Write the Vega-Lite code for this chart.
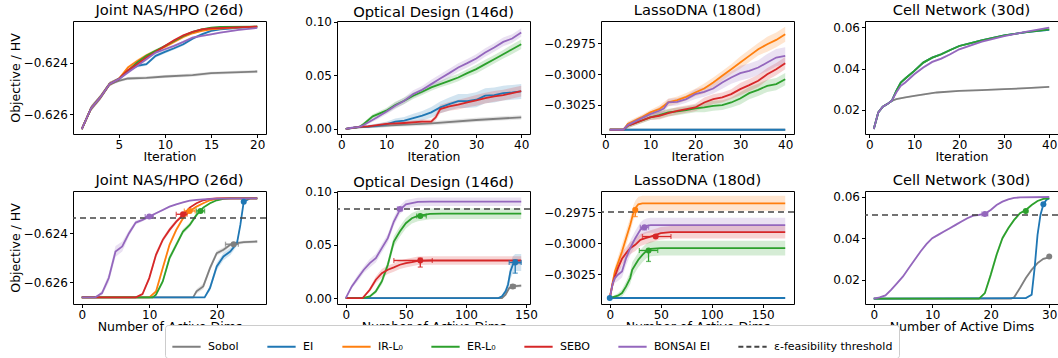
{
"$schema":"https://vega.github.io/schema/vega-lite/v6.json",
"padding":{"left":8,"top":2,"right":0,"bottom":0},
"bounds":"flush",
"columns":4,
"spacing":{"row":57,"column":71},
"config":{
 "font":"DejaVu Sans",
 "view":{"stroke":"black","strokeWidth":1},
 "axis":{"grid":false,"domain":false,"tickColor":"black","tickSize":3.5,"labelColor":"black","labelFontSize":12,"titleFontSize":12.5,"titleFontWeight":"normal","titleColor":"black","labelPadding":2,"titlePadding":1,"labelFlush":false,"labelOverlap":false,"labelBound":false},
 "axisX":{"titlePadding":0,"labelPadding":1.5},
 "title":{"fontSize":14.7,"fontWeight":"normal","offset":3,"color":"black","frame":"group"},
 "legend":{"title":null,"orient":"none","legendX":92,"legendY":304,"direction":"horizontal","columns":7,"symbolType":"stroke","symbolStrokeWidth":2,"symbolSize":800,"labelFontSize":11,"labelColor":"black","columnPadding":24,"labelOffset":6,"strokeColor":"#cccccc","cornerRadius":3,"padding":6,"fillColor":"white","symbolOpacity":1}
},
"datasets":{
"t1":[
{"m":"Sobol","x":1,"v":-0.626584,"e":0.00002},{"m":"Sobol","x":2,"v":-0.625779,"e":0.0001},{"m":"Sobol","x":3,"v":-0.625351,"e":0.0001},{"m":"Sobol","x":4,"v":-0.624831,"e":0.00008},{"m":"Sobol","x":5,"v":-0.624701,"e":0.00006},{"m":"Sobol","x":6,"v":-0.62461,"e":0.00006},{"m":"Sobol","x":8,"v":-0.624584,"e":0.00006},{"m":"Sobol","x":10,"v":-0.624532,"e":0.00006},{"m":"Sobol","x":13,"v":-0.62448,"e":0.00006},{"m":"Sobol","x":15,"v":-0.624403,"e":0.00006},{"m":"Sobol","x":20,"v":-0.624338,"e":0.00006},
{"m":"EI","x":1,"v":-0.626584,"e":0.00002},{"m":"EI","x":2,"v":-0.625779,"e":0.0001},{"m":"EI","x":3,"v":-0.625351,"e":0.0001},{"m":"EI","x":4,"v":-0.624831,"e":0.00008},{"m":"EI","x":5,"v":-0.624636,"e":0.00006},{"m":"EI","x":6,"v":-0.624312,"e":0.00006},{"m":"EI","x":7,"v":-0.624117,"e":0.00006},{"m":"EI","x":8,"v":-0.624052,"e":0.00006},{"m":"EI","x":9,"v":-0.623727,"e":0.00006},{"m":"EI","x":10,"v":-0.623571,"e":0.00006},{"m":"EI","x":11,"v":-0.623429,"e":0.00006},{"m":"EI","x":12,"v":-0.623273,"e":0.00006},{"m":"EI","x":13,"v":-0.623052,"e":0.00005},{"m":"EI","x":14,"v":-0.622883,"e":0.00005},{"m":"EI","x":15,"v":-0.622753,"e":0.00004},{"m":"EI","x":16,"v":-0.622688,"e":0.00003},{"m":"EI","x":18,"v":-0.622636,"e":0.00002},{"m":"EI","x":20,"v":-0.622584,"e":0.00002},
{"m":"IR-L₀","x":1,"v":-0.626584,"e":0.00002},{"m":"IR-L₀","x":2,"v":-0.625779,"e":0.0001},{"m":"IR-L₀","x":3,"v":-0.625351,"e":0.0001},{"m":"IR-L₀","x":4,"v":-0.624831,"e":0.00008},{"m":"IR-L₀","x":5,"v":-0.624636,"e":0.00006},{"m":"IR-L₀","x":6,"v":-0.624182,"e":0.00006},{"m":"IR-L₀","x":7,"v":-0.623922,"e":0.00006},{"m":"IR-L₀","x":8,"v":-0.623701,"e":0.00006},{"m":"IR-L₀","x":9,"v":-0.623532,"e":0.00006},{"m":"IR-L₀","x":10,"v":-0.623377,"e":0.00006},{"m":"IR-L₀","x":11,"v":-0.623182,"e":0.00005},{"m":"IR-L₀","x":12,"v":-0.622987,"e":0.00005},{"m":"IR-L₀","x":13,"v":-0.622844,"e":0.00004},{"m":"IR-L₀","x":14,"v":-0.622753,"e":0.00003},{"m":"IR-L₀","x":15,"v":-0.622688,"e":0.00003},{"m":"IR-L₀","x":17,"v":-0.622636,"e":0.00002},{"m":"IR-L₀","x":20,"v":-0.622584,"e":0.00002},
{"m":"ER-L₀","x":1,"v":-0.626584,"e":0.00002},{"m":"ER-L₀","x":2,"v":-0.625779,"e":0.0001},{"m":"ER-L₀","x":3,"v":-0.625351,"e":0.0001},{"m":"ER-L₀","x":4,"v":-0.624831,"e":0.00008},{"m":"ER-L₀","x":5,"v":-0.624636,"e":0.00006},{"m":"ER-L₀","x":6,"v":-0.624312,"e":0.00006},{"m":"ER-L₀","x":7,"v":-0.623987,"e":0.00006},{"m":"ER-L₀","x":8,"v":-0.623727,"e":0.00006},{"m":"ER-L₀","x":9,"v":-0.623532,"e":0.00006},{"m":"ER-L₀","x":10,"v":-0.623338,"e":0.00005},{"m":"ER-L₀","x":11,"v":-0.623143,"e":0.00005},{"m":"ER-L₀","x":12,"v":-0.622948,"e":0.00004},{"m":"ER-L₀","x":13,"v":-0.622792,"e":0.00003},{"m":"ER-L₀","x":14,"v":-0.622688,"e":0.00003},{"m":"ER-L₀","x":15,"v":-0.622623,"e":0.00002},{"m":"ER-L₀","x":16,"v":-0.622597,"e":0.00002},{"m":"ER-L₀","x":20,"v":-0.622584,"e":0.00002},
{"m":"SEBO","x":1,"v":-0.626584,"e":0.00002},{"m":"SEBO","x":2,"v":-0.625779,"e":0.0001},{"m":"SEBO","x":3,"v":-0.625351,"e":0.0001},{"m":"SEBO","x":4,"v":-0.624831,"e":0.00008},{"m":"SEBO","x":5,"v":-0.624636,"e":0.00006},{"m":"SEBO","x":6,"v":-0.624286,"e":0.00006},{"m":"SEBO","x":7,"v":-0.624052,"e":0.00006},{"m":"SEBO","x":8,"v":-0.623792,"e":0.00006},{"m":"SEBO","x":9,"v":-0.623571,"e":0.00006},{"m":"SEBO","x":10,"v":-0.623338,"e":0.00005},{"m":"SEBO","x":11,"v":-0.623117,"e":0.00005},{"m":"SEBO","x":12,"v":-0.622922,"e":0.00004},{"m":"SEBO","x":13,"v":-0.622792,"e":0.00003},{"m":"SEBO","x":14,"v":-0.622688,"e":0.00003},{"m":"SEBO","x":15,"v":-0.622649,"e":0.00002},{"m":"SEBO","x":20,"v":-0.622584,"e":0.00002},
{"m":"BONSAI EI","x":1,"v":-0.626584,"e":0.00002},{"m":"BONSAI EI","x":2,"v":-0.625779,"e":0.0001},{"m":"BONSAI EI","x":3,"v":-0.625351,"e":0.0001},{"m":"BONSAI EI","x":4,"v":-0.624831,"e":0.00008},{"m":"BONSAI EI","x":5,"v":-0.624636,"e":0.00006},{"m":"BONSAI EI","x":6,"v":-0.624377,"e":0.00006},{"m":"BONSAI EI","x":7,"v":-0.624117,"e":0.00006},{"m":"BONSAI EI","x":8,"v":-0.623857,"e":0.00006},{"m":"BONSAI EI","x":9,"v":-0.623597,"e":0.00006},{"m":"BONSAI EI","x":10,"v":-0.623468,"e":0.00006},{"m":"BONSAI EI","x":11,"v":-0.623338,"e":0.00006},{"m":"BONSAI EI","x":12,"v":-0.623182,"e":0.00005},{"m":"BONSAI EI","x":13,"v":-0.623013,"e":0.00005},{"m":"BONSAI EI","x":14,"v":-0.622948,"e":0.00004},{"m":"BONSAI EI","x":15,"v":-0.622883,"e":0.00004},{"m":"BONSAI EI","x":16,"v":-0.622818,"e":0.00003},{"m":"BONSAI EI","x":18,"v":-0.622714,"e":0.00003},{"m":"BONSAI EI","x":20,"v":-0.622636,"e":0.00002}
],
"t2":[
{"m":"Sobol","x":1,"v":0,"e":0.0005},{"m":"Sobol","x":4,"v":0.0016,"e":0.001},{"m":"Sobol","x":10,"v":0.0031,"e":0.0015},{"m":"Sobol","x":20,"v":0.0053,"e":0.002},{"m":"Sobol","x":30,"v":0.0084,"e":0.002},{"m":"Sobol","x":40,"v":0.0109,"e":0.002},
{"m":"EI","x":1,"v":0,"e":0.0005},{"m":"EI","x":4,"v":0.0019,"e":0.001},{"m":"EI","x":6,"v":0.0022,"e":0.0015},{"m":"EI","x":8,"v":0.0031,"e":0.002},{"m":"EI","x":10,"v":0.0043,"e":0.0025},{"m":"EI","x":12,"v":0.0068,"e":0.003},{"m":"EI","x":14,"v":0.0078,"e":0.0035},{"m":"EI","x":16,"v":0.0102,"e":0.004},{"m":"EI","x":18,"v":0.0124,"e":0.0045},{"m":"EI","x":20,"v":0.0155,"e":0.005},{"m":"EI","x":22,"v":0.0202,"e":0.0055},{"m":"EI","x":24,"v":0.0233,"e":0.006},{"m":"EI","x":26,"v":0.0261,"e":0.0065},{"m":"EI","x":28,"v":0.0261,"e":0.0065},{"m":"EI","x":30,"v":0.0273,"e":0.007},{"m":"EI","x":32,"v":0.0311,"e":0.007},{"m":"EI","x":34,"v":0.0317,"e":0.007},{"m":"EI","x":36,"v":0.0335,"e":0.007},{"m":"EI","x":38,"v":0.0342,"e":0.007},{"m":"EI","x":40,"v":0.0351,"e":0.007},
{"m":"ER-L₀","x":1,"v":0,"e":0.0005},{"m":"ER-L₀","x":4,"v":0.0019,"e":0.001},{"m":"ER-L₀","x":5,"v":0.0047,"e":0.0015},{"m":"ER-L₀","x":7,"v":0.0118,"e":0.002},{"m":"ER-L₀","x":10,"v":0.0171,"e":0.0025},{"m":"ER-L₀","x":12,"v":0.0224,"e":0.003},{"m":"ER-L₀","x":14,"v":0.0264,"e":0.003},{"m":"ER-L₀","x":16,"v":0.0311,"e":0.003},{"m":"ER-L₀","x":18,"v":0.0348,"e":0.003},{"m":"ER-L₀","x":20,"v":0.0388,"e":0.003},{"m":"ER-L₀","x":22,"v":0.0419,"e":0.003},{"m":"ER-L₀","x":24,"v":0.045,"e":0.0035},{"m":"ER-L₀","x":26,"v":0.0481,"e":0.0035},{"m":"ER-L₀","x":28,"v":0.0522,"e":0.0035},{"m":"ER-L₀","x":30,"v":0.0559,"e":0.004},{"m":"ER-L₀","x":32,"v":0.0606,"e":0.004},{"m":"ER-L₀","x":34,"v":0.0652,"e":0.004},{"m":"ER-L₀","x":36,"v":0.0699,"e":0.004},{"m":"ER-L₀","x":38,"v":0.0745,"e":0.0045},{"m":"ER-L₀","x":40,"v":0.0792,"e":0.0045},
{"m":"SEBO","x":1,"v":0,"e":0.0005},{"m":"SEBO","x":4,"v":0.0019,"e":0.001},{"m":"SEBO","x":6,"v":0.0025,"e":0.001},{"m":"SEBO","x":10,"v":0.0047,"e":0.0015},{"m":"SEBO","x":14,"v":0.0056,"e":0.0015},{"m":"SEBO","x":18,"v":0.0068,"e":0.002},{"m":"SEBO","x":20,"v":0.0068,"e":0.002},{"m":"SEBO","x":21,"v":0.0109,"e":0.003},{"m":"SEBO","x":22,"v":0.0186,"e":0.004},{"m":"SEBO","x":24,"v":0.0211,"e":0.004},{"m":"SEBO","x":26,"v":0.0227,"e":0.0045},{"m":"SEBO","x":28,"v":0.0248,"e":0.0045},{"m":"SEBO","x":30,"v":0.0267,"e":0.005},{"m":"SEBO","x":32,"v":0.0289,"e":0.005},{"m":"SEBO","x":34,"v":0.0304,"e":0.005},{"m":"SEBO","x":36,"v":0.0317,"e":0.005},{"m":"SEBO","x":38,"v":0.0335,"e":0.005},{"m":"SEBO","x":40,"v":0.0354,"e":0.005},
{"m":"BONSAI EI","x":1,"v":0,"e":0.0005},{"m":"BONSAI EI","x":2,"v":0.0009,"e":0.001},{"m":"BONSAI EI","x":4,"v":0.0019,"e":0.001},{"m":"BONSAI EI","x":5,"v":0.0037,"e":0.0015},{"m":"BONSAI EI","x":8,"v":0.0109,"e":0.002},{"m":"BONSAI EI","x":10,"v":0.0161,"e":0.0025},{"m":"BONSAI EI","x":12,"v":0.0217,"e":0.003},{"m":"BONSAI EI","x":14,"v":0.0264,"e":0.003},{"m":"BONSAI EI","x":16,"v":0.0326,"e":0.0035},{"m":"BONSAI EI","x":18,"v":0.0366,"e":0.0035},{"m":"BONSAI EI","x":20,"v":0.0419,"e":0.004},{"m":"BONSAI EI","x":22,"v":0.0472,"e":0.004},{"m":"BONSAI EI","x":24,"v":0.0522,"e":0.004},{"m":"BONSAI EI","x":26,"v":0.0575,"e":0.004},{"m":"BONSAI EI","x":28,"v":0.0615,"e":0.004},{"m":"BONSAI EI","x":30,"v":0.0658,"e":0.004},{"m":"BONSAI EI","x":32,"v":0.0714,"e":0.004},{"m":"BONSAI EI","x":34,"v":0.0761,"e":0.004},{"m":"BONSAI EI","x":36,"v":0.0814,"e":0.004},{"m":"BONSAI EI","x":38,"v":0.0845,"e":0.004},{"m":"BONSAI EI","x":40,"v":0.0901,"e":0.004}
],
"t3":[
{"m":"Sobol","x":1,"v":-0.304514,"e":0.00002},{"m":"Sobol","x":40,"v":-0.304514,"e":0.00002},
{"m":"EI","x":1,"v":-0.304514,"e":0.00002},{"m":"EI","x":40,"v":-0.304514,"e":0.00002},
{"m":"IR-L₀","x":1,"v":-0.304514,"e":0.00002},{"m":"IR-L₀","x":4,"v":-0.304514,"e":0.00002},{"m":"IR-L₀","x":5,"v":-0.304054,"e":0.0002},{"m":"IR-L₀","x":6,"v":-0.303865,"e":0.0002},{"m":"IR-L₀","x":8,"v":-0.303514,"e":0.0002},{"m":"IR-L₀","x":10,"v":-0.303108,"e":0.0002},{"m":"IR-L₀","x":12,"v":-0.302838,"e":0.0003},{"m":"IR-L₀","x":14,"v":-0.302297,"e":0.0003},{"m":"IR-L₀","x":16,"v":-0.302108,"e":0.0003},{"m":"IR-L₀","x":18,"v":-0.301838,"e":0.0003},{"m":"IR-L₀","x":20,"v":-0.301486,"e":0.0003},{"m":"IR-L₀","x":22,"v":-0.301162,"e":0.0004},{"m":"IR-L₀","x":24,"v":-0.300676,"e":0.0004},{"m":"IR-L₀","x":26,"v":-0.300135,"e":0.0004},{"m":"IR-L₀","x":28,"v":-0.299595,"e":0.0004},{"m":"IR-L₀","x":30,"v":-0.299054,"e":0.0005},{"m":"IR-L₀","x":32,"v":-0.298514,"e":0.0005},{"m":"IR-L₀","x":34,"v":-0.297973,"e":0.0005},{"m":"IR-L₀","x":36,"v":-0.297568,"e":0.0006},{"m":"IR-L₀","x":38,"v":-0.297216,"e":0.0006},{"m":"IR-L₀","x":40,"v":-0.296757,"e":0.0006},
{"m":"ER-L₀","x":1,"v":-0.304514,"e":0.00002},{"m":"ER-L₀","x":4,"v":-0.304514,"e":0.00002},{"m":"ER-L₀","x":5,"v":-0.304189,"e":0.0002},{"m":"ER-L₀","x":8,"v":-0.303784,"e":0.0002},{"m":"ER-L₀","x":10,"v":-0.303514,"e":0.0002},{"m":"ER-L₀","x":12,"v":-0.303324,"e":0.0003},{"m":"ER-L₀","x":14,"v":-0.303108,"e":0.0003},{"m":"ER-L₀","x":16,"v":-0.303027,"e":0.0003},{"m":"ER-L₀","x":18,"v":-0.302919,"e":0.0003},{"m":"ER-L₀","x":20,"v":-0.302784,"e":0.0003},{"m":"ER-L₀","x":22,"v":-0.302703,"e":0.0004},{"m":"ER-L₀","x":24,"v":-0.302568,"e":0.0004},{"m":"ER-L₀","x":26,"v":-0.302514,"e":0.0004},{"m":"ER-L₀","x":28,"v":-0.302297,"e":0.0004},{"m":"ER-L₀","x":30,"v":-0.301973,"e":0.0005},{"m":"ER-L₀","x":32,"v":-0.301541,"e":0.0005},{"m":"ER-L₀","x":34,"v":-0.30127,"e":0.0005},{"m":"ER-L₀","x":36,"v":-0.300946,"e":0.0005},{"m":"ER-L₀","x":38,"v":-0.300811,"e":0.0005},{"m":"ER-L₀","x":40,"v":-0.300405,"e":0.0005},
{"m":"SEBO","x":1,"v":-0.304514,"e":0.00002},{"m":"SEBO","x":4,"v":-0.304514,"e":0.00002},{"m":"SEBO","x":5,"v":-0.304189,"e":0.0002},{"m":"SEBO","x":6,"v":-0.304054,"e":0.0002},{"m":"SEBO","x":8,"v":-0.303784,"e":0.0002},{"m":"SEBO","x":10,"v":-0.303514,"e":0.0002},{"m":"SEBO","x":12,"v":-0.303378,"e":0.0003},{"m":"SEBO","x":14,"v":-0.303162,"e":0.0003},{"m":"SEBO","x":16,"v":-0.302973,"e":0.0003},{"m":"SEBO","x":18,"v":-0.302838,"e":0.0003},{"m":"SEBO","x":20,"v":-0.302703,"e":0.0003},{"m":"SEBO","x":22,"v":-0.302297,"e":0.0004},{"m":"SEBO","x":24,"v":-0.302027,"e":0.0004},{"m":"SEBO","x":26,"v":-0.301892,"e":0.0004},{"m":"SEBO","x":28,"v":-0.301622,"e":0.0004},{"m":"SEBO","x":30,"v":-0.301216,"e":0.0005},{"m":"SEBO","x":32,"v":-0.300892,"e":0.0005},{"m":"SEBO","x":34,"v":-0.300541,"e":0.0005},{"m":"SEBO","x":36,"v":-0.3,"e":0.0005},{"m":"SEBO","x":38,"v":-0.299595,"e":0.0005},{"m":"SEBO","x":40,"v":-0.299108,"e":0.0005},
{"m":"BONSAI EI","x":1,"v":-0.304514,"e":0.00002},{"m":"BONSAI EI","x":4,"v":-0.304514,"e":0.00002},{"m":"BONSAI EI","x":5,"v":-0.304135,"e":0.0002},{"m":"BONSAI EI","x":8,"v":-0.303595,"e":0.0002},{"m":"BONSAI EI","x":10,"v":-0.303243,"e":0.0002},{"m":"BONSAI EI","x":12,"v":-0.302973,"e":0.0003},{"m":"BONSAI EI","x":13,"v":-0.302784,"e":0.0003},{"m":"BONSAI EI","x":14,"v":-0.302297,"e":0.0003},{"m":"BONSAI EI","x":16,"v":-0.302243,"e":0.0003},{"m":"BONSAI EI","x":18,"v":-0.302027,"e":0.0003},{"m":"BONSAI EI","x":20,"v":-0.301622,"e":0.0004},{"m":"BONSAI EI","x":22,"v":-0.301432,"e":0.0004},{"m":"BONSAI EI","x":24,"v":-0.301162,"e":0.0004},{"m":"BONSAI EI","x":26,"v":-0.300676,"e":0.0005},{"m":"BONSAI EI","x":28,"v":-0.30027,"e":0.0005},{"m":"BONSAI EI","x":30,"v":-0.299919,"e":0.0006},{"m":"BONSAI EI","x":32,"v":-0.29973,"e":0.0006},{"m":"BONSAI EI","x":34,"v":-0.299459,"e":0.0006},{"m":"BONSAI EI","x":36,"v":-0.299054,"e":0.0007},{"m":"BONSAI EI","x":38,"v":-0.298649,"e":0.0007},{"m":"BONSAI EI","x":40,"v":-0.298514,"e":0.0007}
],
"t4":[
{"m":"Sobol","x":1,"v":0.01065,"e":0.0003},{"m":"Sobol","x":2,"v":0.01871,"e":0.0004},{"m":"Sobol","x":3,"v":0.02145,"e":0.0004},{"m":"Sobol","x":4,"v":0.02274,"e":0.0004},{"m":"Sobol","x":5,"v":0.02435,"e":0.0004},{"m":"Sobol","x":6,"v":0.02516,"e":0.0004},{"m":"Sobol","x":8,"v":0.02597,"e":0.0004},{"m":"Sobol","x":10,"v":0.02677,"e":0.0004},{"m":"Sobol","x":15,"v":0.02839,"e":0.0004},{"m":"Sobol","x":20,"v":0.0292,"e":0.0004},{"m":"Sobol","x":25,"v":0.02952,"e":0.0004},{"m":"Sobol","x":30,"v":0.03,"e":0.0004},{"m":"Sobol","x":35,"v":0.03048,"e":0.0004},{"m":"Sobol","x":40,"v":0.03113,"e":0.0004},
{"m":"EI","x":1,"v":0.01065,"e":0.0003},{"m":"EI","x":2,"v":0.01871,"e":0.0004},{"m":"EI","x":3,"v":0.02145,"e":0.0004},{"m":"EI","x":4,"v":0.02274,"e":0.0004},{"m":"EI","x":5,"v":0.02435,"e":0.0005},{"m":"EI","x":6,"v":0.0292,"e":0.0006},{"m":"EI","x":7,"v":0.03323,"e":0.0006},{"m":"EI","x":8,"v":0.03516,"e":0.0006},{"m":"EI","x":10,"v":0.03887,"e":0.0006},{"m":"EI","x":12,"v":0.0429,"e":0.0006},{"m":"EI","x":14,"v":0.04532,"e":0.0006},{"m":"EI","x":16,"v":0.04694,"e":0.0006},{"m":"EI","x":18,"v":0.04903,"e":0.0005},{"m":"EI","x":20,"v":0.05097,"e":0.0005},{"m":"EI","x":25,"v":0.05371,"e":0.0005},{"m":"EI","x":30,"v":0.05613,"e":0.0004},{"m":"EI","x":35,"v":0.05774,"e":0.0004},{"m":"EI","x":40,"v":0.0588,"e":0.0004},
{"m":"ER-L₀","x":1,"v":0.01065,"e":0.0003},{"m":"ER-L₀","x":2,"v":0.01871,"e":0.0004},{"m":"ER-L₀","x":3,"v":0.02145,"e":0.0004},{"m":"ER-L₀","x":4,"v":0.02274,"e":0.0004},{"m":"ER-L₀","x":5,"v":0.02435,"e":0.0005},{"m":"ER-L₀","x":6,"v":0.0292,"e":0.0006},{"m":"ER-L₀","x":7,"v":0.03323,"e":0.0006},{"m":"ER-L₀","x":8,"v":0.03516,"e":0.0006},{"m":"ER-L₀","x":10,"v":0.03887,"e":0.0006},{"m":"ER-L₀","x":12,"v":0.0429,"e":0.0006},{"m":"ER-L₀","x":14,"v":0.04532,"e":0.0006},{"m":"ER-L₀","x":16,"v":0.04694,"e":0.0006},{"m":"ER-L₀","x":18,"v":0.04903,"e":0.0005},{"m":"ER-L₀","x":20,"v":0.05097,"e":0.0005},{"m":"ER-L₀","x":25,"v":0.05371,"e":0.0005},{"m":"ER-L₀","x":30,"v":0.05613,"e":0.0004},{"m":"ER-L₀","x":35,"v":0.05774,"e":0.0004},{"m":"ER-L₀","x":40,"v":0.05903,"e":0.0004},
{"m":"BONSAI EI","x":1,"v":0.01065,"e":0.0003},{"m":"BONSAI EI","x":2,"v":0.01871,"e":0.0004},{"m":"BONSAI EI","x":3,"v":0.02145,"e":0.0004},{"m":"BONSAI EI","x":4,"v":0.02274,"e":0.0004},{"m":"BONSAI EI","x":5,"v":0.02435,"e":0.0005},{"m":"BONSAI EI","x":6,"v":0.02839,"e":0.0006},{"m":"BONSAI EI","x":7,"v":0.03161,"e":0.0006},{"m":"BONSAI EI","x":8,"v":0.03323,"e":0.0006},{"m":"BONSAI EI","x":10,"v":0.03726,"e":0.0006},{"m":"BONSAI EI","x":12,"v":0.04048,"e":0.0006},{"m":"BONSAI EI","x":14,"v":0.04323,"e":0.0006},{"m":"BONSAI EI","x":16,"v":0.04484,"e":0.0006},{"m":"BONSAI EI","x":18,"v":0.04694,"e":0.0005},{"m":"BONSAI EI","x":20,"v":0.04935,"e":0.0005},{"m":"BONSAI EI","x":25,"v":0.05306,"e":0.0005},{"m":"BONSAI EI","x":30,"v":0.05581,"e":0.0004},{"m":"BONSAI EI","x":35,"v":0.0579,"e":0.0004},{"m":"BONSAI EI","x":40,"v":0.05984,"e":0.0004}
],
"b1":[
{"m":"Sobol","x":0,"v":-0.626608,"e":0.00001},{"m":"Sobol","x":16.5,"v":-0.626608,"e":0.00001},{"m":"Sobol","x":17,"v":-0.626365,"e":0.0001},{"m":"Sobol","x":18,"v":-0.626162,"e":0.00012},{"m":"Sobol","x":19,"v":-0.625419,"e":0.00012},{"m":"Sobol","x":20,"v":-0.624811,"e":0.0001},{"m":"Sobol","x":21,"v":-0.624676,"e":0.0001},{"m":"Sobol","x":22,"v":-0.624473,"e":0.00008},{"m":"Sobol","x":23,"v":-0.624405,"e":0.00006},{"m":"Sobol","x":24,"v":-0.624365,"e":0.00006},{"m":"Sobol","x":26,"v":-0.624338,"e":0.00006},
{"m":"EI","x":0,"v":-0.626608,"e":0.00001},{"m":"EI","x":18.2,"v":-0.626608,"e":0.00001},{"m":"EI","x":19,"v":-0.62623,"e":0.00012},{"m":"EI","x":20,"v":-0.625351,"e":0.00015},{"m":"EI","x":21,"v":-0.624946,"e":0.00015},{"m":"EI","x":22,"v":-0.624743,"e":0.00015},{"m":"EI","x":23,"v":-0.624405,"e":0.00012},{"m":"EI","x":23.5,"v":-0.623662,"e":0.0001},{"m":"EI","x":24,"v":-0.622716,"e":0.00005},{"m":"EI","x":25,"v":-0.622581,"e":0.00002},{"m":"EI","x":26,"v":-0.622581,"e":0.00002},
{"m":"IR-L₀","x":0,"v":-0.626608,"e":0.00001},{"m":"IR-L₀","x":10,"v":-0.626608,"e":0.00001},{"m":"IR-L₀","x":11,"v":-0.626365,"e":0.00008},{"m":"IR-L₀","x":12,"v":-0.625419,"e":0.0001},{"m":"IR-L₀","x":13,"v":-0.624473,"e":0.0001},{"m":"IR-L₀","x":14,"v":-0.623865,"e":0.0001},{"m":"IR-L₀","x":15,"v":-0.623392,"e":0.00008},{"m":"IR-L₀","x":16,"v":-0.623095,"e":0.00006},{"m":"IR-L₀","x":17,"v":-0.622919,"e":0.00004},{"m":"IR-L₀","x":18,"v":-0.622784,"e":0.00003},{"m":"IR-L₀","x":19,"v":-0.622662,"e":0.00002},{"m":"IR-L₀","x":20,"v":-0.622608,"e":0.00002},{"m":"IR-L₀","x":21,"v":-0.622581,"e":0.00002},{"m":"IR-L₀","x":26,"v":-0.622581,"e":0.00002},
{"m":"ER-L₀","x":0,"v":-0.626608,"e":0.00001},{"m":"ER-L₀","x":10.5,"v":-0.626608,"e":0.00001},{"m":"ER-L₀","x":11,"v":-0.6265,"e":0.00006},{"m":"ER-L₀","x":12,"v":-0.625959,"e":0.0001},{"m":"ER-L₀","x":13,"v":-0.625014,"e":0.00012},{"m":"ER-L₀","x":14,"v":-0.624473,"e":0.00012},{"m":"ER-L₀","x":15,"v":-0.623932,"e":0.0001},{"m":"ER-L₀","x":16,"v":-0.623662,"e":0.0001},{"m":"ER-L₀","x":17,"v":-0.623257,"e":0.00008},{"m":"ER-L₀","x":18,"v":-0.622959,"e":0.00005},{"m":"ER-L₀","x":19,"v":-0.622784,"e":0.00003},{"m":"ER-L₀","x":20,"v":-0.622662,"e":0.00002},{"m":"ER-L₀","x":21,"v":-0.622608,"e":0.00002},{"m":"ER-L₀","x":22,"v":-0.622581,"e":0.00002},{"m":"ER-L₀","x":26,"v":-0.622581,"e":0.00002},
{"m":"SEBO","x":0,"v":-0.626608,"e":0.00001},{"m":"SEBO","x":8,"v":-0.626608,"e":0.00001},{"m":"SEBO","x":9,"v":-0.626473,"e":0.00006},{"m":"SEBO","x":10,"v":-0.625824,"e":0.0001},{"m":"SEBO","x":11,"v":-0.624878,"e":0.00012},{"m":"SEBO","x":12,"v":-0.62427,"e":0.0001},{"m":"SEBO","x":13,"v":-0.623865,"e":0.0001},{"m":"SEBO","x":14,"v":-0.623527,"e":0.00008},{"m":"SEBO","x":15,"v":-0.62326,"e":0.00006},{"m":"SEBO","x":16,"v":-0.622959,"e":0.00004},{"m":"SEBO","x":17,"v":-0.622784,"e":0.00003},{"m":"SEBO","x":18,"v":-0.622662,"e":0.00002},{"m":"SEBO","x":19,"v":-0.622608,"e":0.00002},{"m":"SEBO","x":20,"v":-0.622581,"e":0.00002},{"m":"SEBO","x":26,"v":-0.622581,"e":0.00002},
{"m":"BONSAI EI","x":0,"v":-0.626608,"e":0.00001},{"m":"BONSAI EI","x":2,"v":-0.626608,"e":0.00001},{"m":"BONSAI EI","x":3,"v":-0.626432,"e":0.0001},{"m":"BONSAI EI","x":4,"v":-0.625824,"e":0.00018},{"m":"BONSAI EI","x":5,"v":-0.624743,"e":0.00022},{"m":"BONSAI EI","x":6,"v":-0.624541,"e":0.0002},{"m":"BONSAI EI","x":7,"v":-0.624,"e":0.00012},{"m":"BONSAI EI","x":8,"v":-0.623568,"e":0.00008},{"m":"BONSAI EI","x":9,"v":-0.623459,"e":0.00006},{"m":"BONSAI EI","x":10,"v":-0.623324,"e":0.00005},{"m":"BONSAI EI","x":11,"v":-0.623189,"e":0.00004},{"m":"BONSAI EI","x":12,"v":-0.623054,"e":0.00004},{"m":"BONSAI EI","x":13,"v":-0.622919,"e":0.00003},{"m":"BONSAI EI","x":14,"v":-0.622824,"e":0.00003},{"m":"BONSAI EI","x":15,"v":-0.622743,"e":0.00002},{"m":"BONSAI EI","x":16,"v":-0.622676,"e":0.00002},{"m":"BONSAI EI","x":17,"v":-0.622649,"e":0.00002},{"m":"BONSAI EI","x":18,"v":-0.622622,"e":0.00002},{"m":"BONSAI EI","x":20,"v":-0.622595,"e":0.00002},{"m":"BONSAI EI","x":26,"v":-0.622581,"e":0.00002}
],
"b2":[
{"m":"Sobol","x":0,"v":0,"e":0.0003},{"m":"Sobol","x":130,"v":0,"e":0.0003},{"m":"Sobol","x":133,"v":0.0031,"e":0.001},{"m":"Sobol","x":136,"v":0.0094,"e":0.0015},{"m":"Sobol","x":139,"v":0.0109,"e":0.0015},{"m":"Sobol","x":146,"v":0.0116,"e":0.0015},
{"m":"EI","x":0,"v":0,"e":0.0003},{"m":"EI","x":127,"v":0,"e":0.0003},{"m":"EI","x":130,"v":0.0016,"e":0.001},{"m":"EI","x":133,"v":0.0063,"e":0.003},{"m":"EI","x":135,"v":0.0125,"e":0.005},{"m":"EI","x":137,"v":0.025,"e":0.007},{"m":"EI","x":139,"v":0.0313,"e":0.008},{"m":"EI","x":141,"v":0.0334,"e":0.008},{"m":"EI","x":146,"v":0.0334,"e":0.008},
{"m":"ER-L₀","x":0,"v":0,"e":0.0003},{"m":"ER-L₀","x":14,"v":0,"e":0.0003},{"m":"ER-L₀","x":20,"v":0.0016,"e":0.001},{"m":"ER-L₀","x":25,"v":0.0063,"e":0.002},{"m":"ER-L₀","x":30,"v":0.0156,"e":0.003},{"m":"ER-L₀","x":35,"v":0.0313,"e":0.004},{"m":"ER-L₀","x":40,"v":0.0531,"e":0.005},{"m":"ER-L₀","x":45,"v":0.0625,"e":0.005},{"m":"ER-L₀","x":50,"v":0.0703,"e":0.005},{"m":"ER-L₀","x":55,"v":0.075,"e":0.005},{"m":"ER-L₀","x":60,"v":0.0772,"e":0.005},{"m":"ER-L₀","x":70,"v":0.0791,"e":0.005},{"m":"ER-L₀","x":80,"v":0.0794,"e":0.005},{"m":"ER-L₀","x":146,"v":0.0794,"e":0.005},
{"m":"SEBO","x":0,"v":0,"e":0.0003},{"m":"SEBO","x":14,"v":0,"e":0.0003},{"m":"SEBO","x":20,"v":0.0078,"e":0.002},{"m":"SEBO","x":25,"v":0.0172,"e":0.003},{"m":"SEBO","x":30,"v":0.0234,"e":0.004},{"m":"SEBO","x":35,"v":0.0266,"e":0.004},{"m":"SEBO","x":40,"v":0.0288,"e":0.004},{"m":"SEBO","x":45,"v":0.0313,"e":0.004},{"m":"SEBO","x":50,"v":0.0328,"e":0.004},{"m":"SEBO","x":55,"v":0.0338,"e":0.004},{"m":"SEBO","x":60,"v":0.035,"e":0.004},{"m":"SEBO","x":70,"v":0.0353,"e":0.004},{"m":"SEBO","x":146,"v":0.0353,"e":0.004},
{"m":"BONSAI EI","x":0,"v":0,"e":0.0003},{"m":"BONSAI EI","x":5,"v":0.0109,"e":0.002},{"m":"BONSAI EI","x":10,"v":0.0188,"e":0.003},{"m":"BONSAI EI","x":15,"v":0.0266,"e":0.003},{"m":"BONSAI EI","x":20,"v":0.0328,"e":0.004},{"m":"BONSAI EI","x":25,"v":0.0375,"e":0.004},{"m":"BONSAI EI","x":30,"v":0.0469,"e":0.004},{"m":"BONSAI EI","x":35,"v":0.0563,"e":0.004},{"m":"BONSAI EI","x":40,"v":0.0719,"e":0.004},{"m":"BONSAI EI","x":45,"v":0.0828,"e":0.004},{"m":"BONSAI EI","x":50,"v":0.0881,"e":0.004},{"m":"BONSAI EI","x":60,"v":0.0903,"e":0.004},{"m":"BONSAI EI","x":70,"v":0.0906,"e":0.004},{"m":"BONSAI EI","x":146,"v":0.0906,"e":0.004}
],
"b3":[
{"m":"EI","x":0,"v":-0.304435,"e":0.00002},{"m":"EI","x":172,"v":-0.304435,"e":0.00002},
{"m":"IR-L₀","x":0,"v":-0.304435,"e":0.00002},{"m":"IR-L₀","x":3,"v":-0.303091,"e":0.0003},{"m":"IR-L₀","x":5,"v":-0.302285,"e":0.0004},{"m":"IR-L₀","x":8,"v":-0.301613,"e":0.0005},{"m":"IR-L₀","x":12,"v":-0.300672,"e":0.0006},{"m":"IR-L₀","x":16,"v":-0.299597,"e":0.0006},{"m":"IR-L₀","x":20,"v":-0.298522,"e":0.0006},{"m":"IR-L₀","x":23,"v":-0.297581,"e":0.0006},{"m":"IR-L₀","x":25,"v":-0.297177,"e":0.0006},{"m":"IR-L₀","x":28,"v":-0.296855,"e":0.0006},{"m":"IR-L₀","x":32,"v":-0.296774,"e":0.0006},{"m":"IR-L₀","x":172,"v":-0.296774,"e":0.0006},
{"m":"ER-L₀","x":0,"v":-0.304435,"e":0.00002},{"m":"ER-L₀","x":8,"v":-0.304247,"e":0.0002},{"m":"ER-L₀","x":12,"v":-0.304032,"e":0.0003},{"m":"ER-L₀","x":16,"v":-0.303495,"e":0.0004},{"m":"ER-L₀","x":20,"v":-0.302823,"e":0.0005},{"m":"ER-L₀","x":22,"v":-0.302151,"e":0.0006},{"m":"ER-L₀","x":25,"v":-0.301747,"e":0.0006},{"m":"ER-L₀","x":28,"v":-0.301344,"e":0.0006},{"m":"ER-L₀","x":32,"v":-0.300941,"e":0.0006},{"m":"ER-L₀","x":36,"v":-0.300618,"e":0.0006},{"m":"ER-L₀","x":40,"v":-0.300457,"e":0.0006},{"m":"ER-L₀","x":50,"v":-0.300403,"e":0.0006},{"m":"ER-L₀","x":172,"v":-0.300403,"e":0.0006},
{"m":"SEBO","x":0,"v":-0.304435,"e":0.00002},{"m":"SEBO","x":3,"v":-0.303226,"e":0.0003},{"m":"SEBO","x":5,"v":-0.302688,"e":0.0004},{"m":"SEBO","x":8,"v":-0.302016,"e":0.0005},{"m":"SEBO","x":12,"v":-0.301263,"e":0.0005},{"m":"SEBO","x":16,"v":-0.300806,"e":0.0005},{"m":"SEBO","x":20,"v":-0.300403,"e":0.0005},{"m":"SEBO","x":25,"v":-0.300134,"e":0.0005},{"m":"SEBO","x":30,"v":-0.299731,"e":0.0005},{"m":"SEBO","x":35,"v":-0.299597,"e":0.0005},{"m":"SEBO","x":40,"v":-0.299462,"e":0.0005},{"m":"SEBO","x":45,"v":-0.299328,"e":0.0005},{"m":"SEBO","x":50,"v":-0.299194,"e":0.0005},{"m":"SEBO","x":60,"v":-0.299113,"e":0.0005},{"m":"SEBO","x":172,"v":-0.299113,"e":0.0005},
{"m":"BONSAI EI","x":0,"v":-0.304435,"e":0.00002},{"m":"BONSAI EI","x":3,"v":-0.303226,"e":0.0003},{"m":"BONSAI EI","x":5,"v":-0.302823,"e":0.0004},{"m":"BONSAI EI","x":8,"v":-0.302554,"e":0.0005},{"m":"BONSAI EI","x":12,"v":-0.302285,"e":0.0005},{"m":"BONSAI EI","x":16,"v":-0.30121,"e":0.0006},{"m":"BONSAI EI","x":20,"v":-0.300403,"e":0.0006},{"m":"BONSAI EI","x":25,"v":-0.299597,"e":0.0006},{"m":"BONSAI EI","x":30,"v":-0.298925,"e":0.0006},{"m":"BONSAI EI","x":33,"v":-0.29871,"e":0.0006},{"m":"BONSAI EI","x":36,"v":-0.298602,"e":0.0006},{"m":"BONSAI EI","x":40,"v":-0.298548,"e":0.0006},{"m":"BONSAI EI","x":172,"v":-0.298548,"e":0.0006}
],
"b4":[
{"m":"Sobol","x":0,"v":0.01088,"e":0.0001},{"m":"Sobol","x":23.5,"v":0.01088,"e":0.0001},{"m":"Sobol","x":24,"v":0.01152,"e":0.0003},{"m":"Sobol","x":25,"v":0.016,"e":0.0006},{"m":"Sobol","x":26,"v":0.0208,"e":0.0008},{"m":"Sobol","x":27,"v":0.0248,"e":0.0008},{"m":"Sobol","x":28,"v":0.028,"e":0.0006},{"m":"Sobol","x":29,"v":0.03008,"e":0.0005},{"m":"Sobol","x":30,"v":0.03072,"e":0.0005},
{"m":"EI","x":0,"v":0.01088,"e":0.0001},{"m":"EI","x":26,"v":0.0112,"e":0.0002},{"m":"EI","x":27,"v":0.0128,"e":0.0006},{"m":"EI","x":27.5,"v":0.0256,"e":0.0015},{"m":"EI","x":28,"v":0.0416,"e":0.0015},{"m":"EI","x":28.5,"v":0.0512,"e":0.001},{"m":"EI","x":29,"v":0.05632,"e":0.0006},{"m":"EI","x":29.5,"v":0.0584,"e":0.0004},{"m":"EI","x":30,"v":0.0592,"e":0.0003},
{"m":"ER-L₀","x":0,"v":0.01088,"e":0.0001},{"m":"ER-L₀","x":18,"v":0.01088,"e":0.0001},{"m":"ER-L₀","x":19,"v":0.0136,"e":0.0008},{"m":"ER-L₀","x":20,"v":0.0224,"e":0.0018},{"m":"ER-L₀","x":21,"v":0.032,"e":0.0015},{"m":"ER-L₀","x":22,"v":0.04,"e":0.001},{"m":"ER-L₀","x":23,"v":0.0448,"e":0.0008},{"m":"ER-L₀","x":24,"v":0.0488,"e":0.0006},{"m":"ER-L₀","x":25,"v":0.052,"e":0.0005},{"m":"ER-L₀","x":26,"v":0.0536,"e":0.0004},{"m":"ER-L₀","x":27,"v":0.056,"e":0.0003},{"m":"ER-L₀","x":28,"v":0.05792,"e":0.0003},{"m":"ER-L₀","x":29,"v":0.05888,"e":0.0003},{"m":"ER-L₀","x":30,"v":0.0592,"e":0.0003},
{"m":"BONSAI EI","x":0,"v":0.01088,"e":0.0001},{"m":"BONSAI EI","x":1,"v":0.01152,"e":0.0002},{"m":"BONSAI EI","x":2,"v":0.01248,"e":0.0003},{"m":"BONSAI EI","x":3,"v":0.0152,"e":0.0004},{"m":"BONSAI EI","x":4,"v":0.0184,"e":0.0005},{"m":"BONSAI EI","x":5,"v":0.0216,"e":0.0005},{"m":"BONSAI EI","x":6,"v":0.0256,"e":0.0005},{"m":"BONSAI EI","x":7,"v":0.0296,"e":0.0005},{"m":"BONSAI EI","x":8,"v":0.0336,"e":0.0005},{"m":"BONSAI EI","x":9,"v":0.03712,"e":0.0005},{"m":"BONSAI EI","x":10,"v":0.04,"e":0.0005},{"m":"BONSAI EI","x":11,"v":0.0416,"e":0.0005},{"m":"BONSAI EI","x":12,"v":0.0432,"e":0.0005},{"m":"BONSAI EI","x":13,"v":0.0448,"e":0.0005},{"m":"BONSAI EI","x":14,"v":0.0464,"e":0.0005},{"m":"BONSAI EI","x":15,"v":0.048,"e":0.0005},{"m":"BONSAI EI","x":16,"v":0.0496,"e":0.0005},{"m":"BONSAI EI","x":17,"v":0.05088,"e":0.0005},{"m":"BONSAI EI","x":18,"v":0.0512,"e":0.0005},{"m":"BONSAI EI","x":19,"v":0.0518,"e":0.0005},{"m":"BONSAI EI","x":20,"v":0.0536,"e":0.0004},{"m":"BONSAI EI","x":21,"v":0.056,"e":0.0004},{"m":"BONSAI EI","x":22,"v":0.0576,"e":0.0003},{"m":"BONSAI EI","x":23,"v":0.05872,"e":0.0003},{"m":"BONSAI EI","x":24,"v":0.05936,"e":0.0003},{"m":"BONSAI EI","x":25,"v":0.05968,"e":0.0003},{"m":"BONSAI EI","x":30,"v":0.05984,"e":0.0003}
],
"k1":[
{"m":"Sobol","x":22.5,"v":-0.624446,"xl":21.3,"xh":23.2},
{"m":"EI","x":24,"v":-0.622716},
{"m":"IR-L₀","x":16,"v":-0.623095,"xl":15.2,"xh":16.8},
{"m":"ER-L₀","x":17.6,"v":-0.623095,"xl":17,"xh":18.2},
{"m":"SEBO","x":15,"v":-0.62323,"xl":14,"xh":15.6},
{"m":"BONSAI EI","x":10,"v":-0.623324,"xl":9.4,"xh":10.6}
],
"k2":[
{"m":"Sobol","x":139,"v":0.0109,"xl":137,"xh":141},
{"m":"EI","x":141,"v":0.0334,"xl":136,"xh":146,"vl":0.0234,"vh":0.0359},
{"m":"ER-L₀","x":62,"v":0.0772,"xl":59,"xh":67},
{"m":"SEBO","x":62,"v":0.0353,"xl":40,"xh":72,"vl":0.0291,"vh":0.0375},
{"m":"BONSAI EI","x":45,"v":0.0838,"xl":43,"xh":47}
],
"k3":[
{"m":"EI","x":0,"v":-0.304435},
{"m":"IR-L₀","x":25,"v":-0.297312,"xl":23.5,"xh":26.5,"vl":-0.297849,"vh":-0.297231},
{"m":"ER-L₀","x":38,"v":-0.300591,"xl":29,"xh":47,"vl":-0.301478,"vh":-0.300538},
{"m":"SEBO","x":45,"v":-0.299462,"xl":32,"xh":60},
{"m":"BONSAI EI","x":34,"v":-0.29871,"xl":30,"xh":38,"vl":-0.298925,"vh":-0.298656}
],
"k4":[
{"m":"Sobol","x":30,"v":0.0312},
{"m":"EI","x":29,"v":0.05632},
{"m":"ER-L₀","x":26,"v":0.05312},
{"m":"BONSAI EI","x":19,"v":0.05168,"xl":18.5,"xh":19.5}
],
"h1":[{"m":"ε-feasibility threshold","v":-0.623378}],
"h2":[{"m":"ε-feasibility threshold","v":0.0838}],
"h3":[{"m":"ε-feasibility threshold","v":-0.297473}],
"h4":[{"m":"ε-feasibility threshold","v":0.0512}]
},
"concat":[
{"width":193,"height":113,"title":"Joint NAS/HPO (26d)","data":{"name":"t1"},
 "encoding":{"color":{"field":"m","type":"nominal","scale":{"domain":["Sobol","EI","IR-L₀","ER-L₀","SEBO","BONSAI EI","ε-feasibility threshold"],"range":["#7f7f7f","#1f77b4","#ff7f0e","#2ca02c","#d62728","#9467bd","#444444"]},"legend":{"encode":{"symbols":{"update":{"strokeDash":{"signal":"datum.value === 'ε-feasibility threshold' ? [5,3] : [1,0]"}}}}}}},
 "layer":[
  {"mark":{"type":"errorband","band":{"opacity":0.2}},"encoding":{"x":{"field":"x","type":"quantitative","scale":{"domain":[0.05,20.95],"nice":false,"zero":false},"axis":{"values":[5,10,15,20],"title":"Iteration"}},"y":{"field":"v","type":"quantitative","scale":{"domain":[-0.626779,-0.622364],"nice":false,"zero":false},"axis":{"values":[-0.626,-0.624],"format":".3f","title":"Objective / HV"}},"yError":{"field":"e"}}},
  {"mark":{"type":"line","strokeWidth":1.8},"encoding":{"x":{"field":"x","type":"quantitative","scale":{"domain":[0.05,20.95],"nice":false,"zero":false},"axis":{"values":[5,10,15,20],"title":"Iteration"}},"y":{"field":"v","type":"quantitative","scale":{"domain":[-0.626779,-0.622364],"nice":false,"zero":false},"axis":{"values":[-0.626,-0.624],"format":".3f","title":"Objective / HV"}}}}
 ]},
{"width":193,"height":113,"title":{"text":"Optical Design (146d)","offset":-4},"data":{"name":"t2"},
 "encoding":{"color":{"field":"m","type":"nominal","scale":{"domain":["Sobol","EI","IR-L₀","ER-L₀","SEBO","BONSAI EI","ε-feasibility threshold"],"range":["#7f7f7f","#1f77b4","#ff7f0e","#2ca02c","#d62728","#9467bd","#444444"]},"legend":{"encode":{"symbols":{"update":{"strokeDash":{"signal":"datum.value === 'ε-feasibility threshold' ? [5,3] : [1,0]"}}}}}}},
 "layer":[
  {"mark":{"type":"errorband","band":{"opacity":0.2}},"encoding":{"x":{"field":"x","type":"quantitative","scale":{"domain":[-0.95,41.95],"nice":false,"zero":false},"axis":{"values":[0,10,20,30,40],"title":"Iteration"}},"y":{"field":"v","type":"quantitative","scale":{"domain":[-0.0047,0.1009],"nice":false,"zero":false},"axis":{"values":[0,0.05,0.1],"format":".2f","title":null}},"yError":{"field":"e"}}},
  {"mark":{"type":"line","strokeWidth":1.8},"encoding":{"x":{"field":"x","type":"quantitative","scale":{"domain":[-0.95,41.95],"nice":false,"zero":false},"axis":{"values":[0,10,20,30,40],"title":"Iteration"}},"y":{"field":"v","type":"quantitative","scale":{"domain":[-0.0047,0.1009],"nice":false,"zero":false},"axis":{"values":[0,0.05,0.1],"format":".2f","title":null}}}}
 ]},
{"width":193,"height":113,"title":"LassoDNA (180d)","data":{"name":"t3"},
 "encoding":{"color":{"field":"m","type":"nominal","scale":{"domain":["Sobol","EI","IR-L₀","ER-L₀","SEBO","BONSAI EI","ε-feasibility threshold"],"range":["#7f7f7f","#1f77b4","#ff7f0e","#2ca02c","#d62728","#9467bd","#444444"]},"legend":{"encode":{"symbols":{"update":{"strokeDash":{"signal":"datum.value === 'ε-feasibility threshold' ? [5,3] : [1,0]"}}}}}}},
 "layer":[
  {"mark":{"type":"errorband","band":{"opacity":0.2}},"encoding":{"x":{"field":"x","type":"quantitative","scale":{"domain":[-0.95,41.95],"nice":false,"zero":false},"axis":{"values":[0,10,20,30,40],"title":"Iteration"}},"y":{"field":"v","type":"quantitative","scale":{"domain":[-0.30486,-0.29568],"nice":false,"zero":false},"axis":{"values":[-0.3025,-0.3,-0.2975],"format":".4f","title":null}},"yError":{"field":"e"}}},
  {"mark":{"type":"line","strokeWidth":1.8},"encoding":{"x":{"field":"x","type":"quantitative","scale":{"domain":[-0.95,41.95],"nice":false,"zero":false},"axis":{"values":[0,10,20,30,40],"title":"Iteration"}},"y":{"field":"v","type":"quantitative","scale":{"domain":[-0.30486,-0.29568],"nice":false,"zero":false},"axis":{"values":[-0.3025,-0.3,-0.2975],"format":".4f","title":null}}}}
 ]},
{"width":193,"height":113,"title":"Cell Network (30d)","data":{"name":"t4"},
 "encoding":{"color":{"field":"m","type":"nominal","scale":{"domain":["Sobol","EI","IR-L₀","ER-L₀","SEBO","BONSAI EI","ε-feasibility threshold"],"range":["#7f7f7f","#1f77b4","#ff7f0e","#2ca02c","#d62728","#9467bd","#444444"]},"legend":{"encode":{"symbols":{"update":{"strokeDash":{"signal":"datum.value === 'ε-feasibility threshold' ? [5,3] : [1,0]"}}}}}}},
 "layer":[
  {"mark":{"type":"errorband","band":{"opacity":0.2}},"encoding":{"x":{"field":"x","type":"quantitative","scale":{"domain":[-0.95,41.95],"nice":false,"zero":false},"axis":{"values":[0,10,20,30,40],"title":"Iteration"}},"y":{"field":"v","type":"quantitative","scale":{"domain":[0.00823,0.0631],"nice":false,"zero":false},"axis":{"values":[0.02,0.04,0.06],"format":".2f","title":null}},"yError":{"field":"e"}}},
  {"mark":{"type":"line","strokeWidth":1.8},"encoding":{"x":{"field":"x","type":"quantitative","scale":{"domain":[-0.95,41.95],"nice":false,"zero":false},"axis":{"values":[0,10,20,30,40],"title":"Iteration"}},"y":{"field":"v","type":"quantitative","scale":{"domain":[0.00823,0.0631],"nice":false,"zero":false},"axis":{"values":[0.02,0.04,0.06],"format":".2f","title":null}}}}
 ]},
{"width":193,"height":113,"title":"Joint NAS/HPO (26d)","data":{"name":"b1"},
 "encoding":{"color":{"field":"m","type":"nominal","scale":{"domain":["Sobol","EI","IR-L₀","ER-L₀","SEBO","BONSAI EI","ε-feasibility threshold"],"range":["#7f7f7f","#1f77b4","#ff7f0e","#2ca02c","#d62728","#9467bd","#444444"]},"legend":{"encode":{"symbols":{"update":{"strokeDash":{"signal":"datum.value === 'ε-feasibility threshold' ? [5,3] : [1,0]"}}}}}}},
 "layer":[
  {"mark":{"type":"errorband","band":{"opacity":0.2}},"encoding":{"x":{"field":"x","type":"quantitative","scale":{"domain":[-1.3,27.3],"nice":false,"zero":false},"axis":{"values":[0,10,20],"title":"Number of Active Dims"}},"y":{"field":"v","type":"quantitative","scale":{"domain":[-0.626878,-0.622284],"nice":false,"zero":false},"axis":{"values":[-0.626,-0.624],"format":".3f","title":"Objective / HV"}},"yError":{"field":"e"}}},
  {"mark":{"type":"line","strokeWidth":1.8},"encoding":{"x":{"field":"x","type":"quantitative","scale":{"domain":[-1.3,27.3],"nice":false,"zero":false},"axis":{"values":[0,10,20],"title":"Number of Active Dims"}},"y":{"field":"v","type":"quantitative","scale":{"domain":[-0.626878,-0.622284],"nice":false,"zero":false},"axis":{"values":[-0.626,-0.624],"format":".3f","title":"Objective / HV"}}}},
  {"data":{"name":"h1"},"mark":{"type":"rule","strokeDash":[6,4],"strokeWidth":1.5},"encoding":{"y":{"field":"v","type":"quantitative","scale":{"domain":[-0.626878,-0.622284],"nice":false,"zero":false},"axis":{"values":[-0.626,-0.624],"format":".3f","title":"Objective / HV"}}}},
  {"data":{"name":"k1"},"transform":[{"filter":"datum.xl != null"}],"mark":{"type":"errorbar","ticks":true,"size":5,"thickness":1.3},"encoding":{"x":{"field":"xl","type":"quantitative","scale":{"domain":[-1.3,27.3],"nice":false,"zero":false},"axis":{"values":[0,10,20],"title":"Number of Active Dims"}},"x2":{"field":"xh"},"y":{"field":"v","type":"quantitative","scale":{"domain":[-0.626878,-0.622284],"nice":false,"zero":false},"axis":{"values":[-0.626,-0.624],"format":".3f","title":"Objective / HV"}}}},
  {"data":{"name":"k1"},"mark":{"type":"point","filled":true,"size":36,"opacity":1},"encoding":{"x":{"field":"x","type":"quantitative","scale":{"domain":[-1.3,27.3],"nice":false,"zero":false},"axis":{"values":[0,10,20],"title":"Number of Active Dims"}},"y":{"field":"v","type":"quantitative","scale":{"domain":[-0.626878,-0.622284],"nice":false,"zero":false},"axis":{"values":[-0.626,-0.624],"format":".3f","title":"Objective / HV"}}}}
 ]},
{"width":193,"height":113,"title":{"text":"Optical Design (146d)","offset":-4},"data":{"name":"b2"},
 "encoding":{"color":{"field":"m","type":"nominal","scale":{"domain":["Sobol","EI","IR-L₀","ER-L₀","SEBO","BONSAI EI","ε-feasibility threshold"],"range":["#7f7f7f","#1f77b4","#ff7f0e","#2ca02c","#d62728","#9467bd","#444444"]},"legend":{"encode":{"symbols":{"update":{"strokeDash":{"signal":"datum.value === 'ε-feasibility threshold' ? [5,3] : [1,0]"}}}}}}},
 "layer":[
  {"mark":{"type":"errorband","band":{"opacity":0.2}},"encoding":{"x":{"field":"x","type":"quantitative","scale":{"domain":[-7.3,153.3],"nice":false,"zero":false},"axis":{"values":[0,50,100,150],"title":"Number of Active Dims"}},"y":{"field":"v","type":"quantitative","scale":{"domain":[-0.0056,0.1006],"nice":false,"zero":false},"axis":{"values":[0,0.05,0.1],"format":".2f","title":null}},"yError":{"field":"e"}}},
  {"mark":{"type":"line","strokeWidth":1.8},"encoding":{"x":{"field":"x","type":"quantitative","scale":{"domain":[-7.3,153.3],"nice":false,"zero":false},"axis":{"values":[0,50,100,150],"title":"Number of Active Dims"}},"y":{"field":"v","type":"quantitative","scale":{"domain":[-0.0056,0.1006],"nice":false,"zero":false},"axis":{"values":[0,0.05,0.1],"format":".2f","title":null}}}},
  {"data":{"name":"h2"},"mark":{"type":"rule","strokeDash":[6,4],"strokeWidth":1.5},"encoding":{"y":{"field":"v","type":"quantitative","scale":{"domain":[-0.0056,0.1006],"nice":false,"zero":false},"axis":{"values":[0,0.05,0.1],"format":".2f","title":null}}}},
  {"data":{"name":"k2"},"transform":[{"filter":"datum.xl != null"}],"mark":{"type":"errorbar","ticks":true,"size":5,"thickness":1.3},"encoding":{"x":{"field":"xl","type":"quantitative","scale":{"domain":[-7.3,153.3],"nice":false,"zero":false},"axis":{"values":[0,50,100,150],"title":"Number of Active Dims"}},"x2":{"field":"xh"},"y":{"field":"v","type":"quantitative","scale":{"domain":[-0.0056,0.1006],"nice":false,"zero":false},"axis":{"values":[0,0.05,0.1],"format":".2f","title":null}}}},
  {"data":{"name":"k2"},"transform":[{"filter":"datum.vl != null"}],"mark":{"type":"errorbar","ticks":true,"size":5,"thickness":1.3},"encoding":{"x":{"field":"x","type":"quantitative","scale":{"domain":[-7.3,153.3],"nice":false,"zero":false},"axis":{"values":[0,50,100,150],"title":"Number of Active Dims"}},"y":{"field":"vl","type":"quantitative","scale":{"domain":[-0.0056,0.1006],"nice":false,"zero":false},"axis":{"values":[0,0.05,0.1],"format":".2f","title":null}},"y2":{"field":"vh"}}},
  {"data":{"name":"k2"},"mark":{"type":"point","filled":true,"size":36,"opacity":1},"encoding":{"x":{"field":"x","type":"quantitative","scale":{"domain":[-7.3,153.3],"nice":false,"zero":false},"axis":{"values":[0,50,100,150],"title":"Number of Active Dims"}},"y":{"field":"v","type":"quantitative","scale":{"domain":[-0.0056,0.1006],"nice":false,"zero":false},"axis":{"values":[0,0.05,0.1],"format":".2f","title":null}}}}
 ]},
{"width":193,"height":113,"title":"LassoDNA (180d)","data":{"name":"b3"},
 "encoding":{"color":{"field":"m","type":"nominal","scale":{"domain":["Sobol","EI","IR-L₀","ER-L₀","SEBO","BONSAI EI","ε-feasibility threshold"],"range":["#7f7f7f","#1f77b4","#ff7f0e","#2ca02c","#d62728","#9467bd","#444444"]},"legend":{"encode":{"symbols":{"update":{"strokeDash":{"signal":"datum.value === 'ε-feasibility threshold' ? [5,3] : [1,0]"}}}}}}},
 "layer":[
  {"mark":{"type":"errorband","band":{"opacity":0.2}},"encoding":{"x":{"field":"x","type":"quantitative","scale":{"domain":[-8.6,180.6],"nice":false,"zero":false},"axis":{"values":[0,50,100,150],"title":"Number of Active Dims"}},"y":{"field":"v","type":"quantitative","scale":{"domain":[-0.30492,-0.29578],"nice":false,"zero":false},"axis":{"values":[-0.3025,-0.3,-0.2975],"format":".4f","title":null}},"yError":{"field":"e"}}},
  {"mark":{"type":"line","strokeWidth":1.8},"encoding":{"x":{"field":"x","type":"quantitative","scale":{"domain":[-8.6,180.6],"nice":false,"zero":false},"axis":{"values":[0,50,100,150],"title":"Number of Active Dims"}},"y":{"field":"v","type":"quantitative","scale":{"domain":[-0.30492,-0.29578],"nice":false,"zero":false},"axis":{"values":[-0.3025,-0.3,-0.2975],"format":".4f","title":null}}}},
  {"data":{"name":"h3"},"mark":{"type":"rule","strokeDash":[6,4],"strokeWidth":1.5},"encoding":{"y":{"field":"v","type":"quantitative","scale":{"domain":[-0.30492,-0.29578],"nice":false,"zero":false},"axis":{"values":[-0.3025,-0.3,-0.2975],"format":".4f","title":null}}}},
  {"data":{"name":"k3"},"transform":[{"filter":"datum.xl != null"}],"mark":{"type":"errorbar","ticks":true,"size":5,"thickness":1.3},"encoding":{"x":{"field":"xl","type":"quantitative","scale":{"domain":[-8.6,180.6],"nice":false,"zero":false},"axis":{"values":[0,50,100,150],"title":"Number of Active Dims"}},"x2":{"field":"xh"},"y":{"field":"v","type":"quantitative","scale":{"domain":[-0.30492,-0.29578],"nice":false,"zero":false},"axis":{"values":[-0.3025,-0.3,-0.2975],"format":".4f","title":null}}}},
  {"data":{"name":"k3"},"transform":[{"filter":"datum.vl != null"}],"mark":{"type":"errorbar","ticks":true,"size":5,"thickness":1.3},"encoding":{"x":{"field":"x","type":"quantitative","scale":{"domain":[-8.6,180.6],"nice":false,"zero":false},"axis":{"values":[0,50,100,150],"title":"Number of Active Dims"}},"y":{"field":"vl","type":"quantitative","scale":{"domain":[-0.30492,-0.29578],"nice":false,"zero":false},"axis":{"values":[-0.3025,-0.3,-0.2975],"format":".4f","title":null}},"y2":{"field":"vh"}}},
  {"data":{"name":"k3"},"mark":{"type":"point","filled":true,"size":36,"opacity":1},"encoding":{"x":{"field":"x","type":"quantitative","scale":{"domain":[-8.6,180.6],"nice":false,"zero":false},"axis":{"values":[0,50,100,150],"title":"Number of Active Dims"}},"y":{"field":"v","type":"quantitative","scale":{"domain":[-0.30492,-0.29578],"nice":false,"zero":false},"axis":{"values":[-0.3025,-0.3,-0.2975],"format":".4f","title":null}}}}
 ]},
{"width":193,"height":113,"title":"Cell Network (30d)","data":{"name":"b4"},
 "encoding":{"color":{"field":"m","type":"nominal","scale":{"domain":["Sobol","EI","IR-L₀","ER-L₀","SEBO","BONSAI EI","ε-feasibility threshold"],"range":["#7f7f7f","#1f77b4","#ff7f0e","#2ca02c","#d62728","#9467bd","#444444"]},"legend":{"encode":{"symbols":{"update":{"strokeDash":{"signal":"datum.value === 'ε-feasibility threshold' ? [5,3] : [1,0]"}}}}}}},
 "layer":[
  {"mark":{"type":"errorband","band":{"opacity":0.2}},"encoding":{"x":{"field":"x","type":"quantitative","scale":{"domain":[-1.5,31.5],"nice":false,"zero":false},"axis":{"values":[0,10,20,30],"title":"Number of Active Dims"}},"y":{"field":"v","type":"quantitative","scale":{"domain":[0.00832,0.06272],"nice":false,"zero":false},"axis":{"values":[0.02,0.04,0.06],"format":".2f","title":null}},"yError":{"field":"e"}}},
  {"mark":{"type":"line","strokeWidth":1.8},"encoding":{"x":{"field":"x","type":"quantitative","scale":{"domain":[-1.5,31.5],"nice":false,"zero":false},"axis":{"values":[0,10,20,30],"title":"Number of Active Dims"}},"y":{"field":"v","type":"quantitative","scale":{"domain":[0.00832,0.06272],"nice":false,"zero":false},"axis":{"values":[0.02,0.04,0.06],"format":".2f","title":null}}}},
  {"data":{"name":"h4"},"mark":{"type":"rule","strokeDash":[6,4],"strokeWidth":1.5},"encoding":{"y":{"field":"v","type":"quantitative","scale":{"domain":[0.00832,0.06272],"nice":false,"zero":false},"axis":{"values":[0.02,0.04,0.06],"format":".2f","title":null}}}},
  {"data":{"name":"k4"},"transform":[{"filter":"datum.xl != null"}],"mark":{"type":"errorbar","ticks":true,"size":5,"thickness":1.3},"encoding":{"x":{"field":"xl","type":"quantitative","scale":{"domain":[-1.5,31.5],"nice":false,"zero":false},"axis":{"values":[0,10,20,30],"title":"Number of Active Dims"}},"x2":{"field":"xh"},"y":{"field":"v","type":"quantitative","scale":{"domain":[0.00832,0.06272],"nice":false,"zero":false},"axis":{"values":[0.02,0.04,0.06],"format":".2f","title":null}}}},
  {"data":{"name":"k4"},"mark":{"type":"point","filled":true,"size":36,"opacity":1},"encoding":{"x":{"field":"x","type":"quantitative","scale":{"domain":[-1.5,31.5],"nice":false,"zero":false},"axis":{"values":[0,10,20,30],"title":"Number of Active Dims"}},"y":{"field":"v","type":"quantitative","scale":{"domain":[0.00832,0.06272],"nice":false,"zero":false},"axis":{"values":[0.02,0.04,0.06],"format":".2f","title":null}}}}
 ]}
],
"resolve":{"scale":{"color":"shared"},"legend":{"color":"shared"}}
}
